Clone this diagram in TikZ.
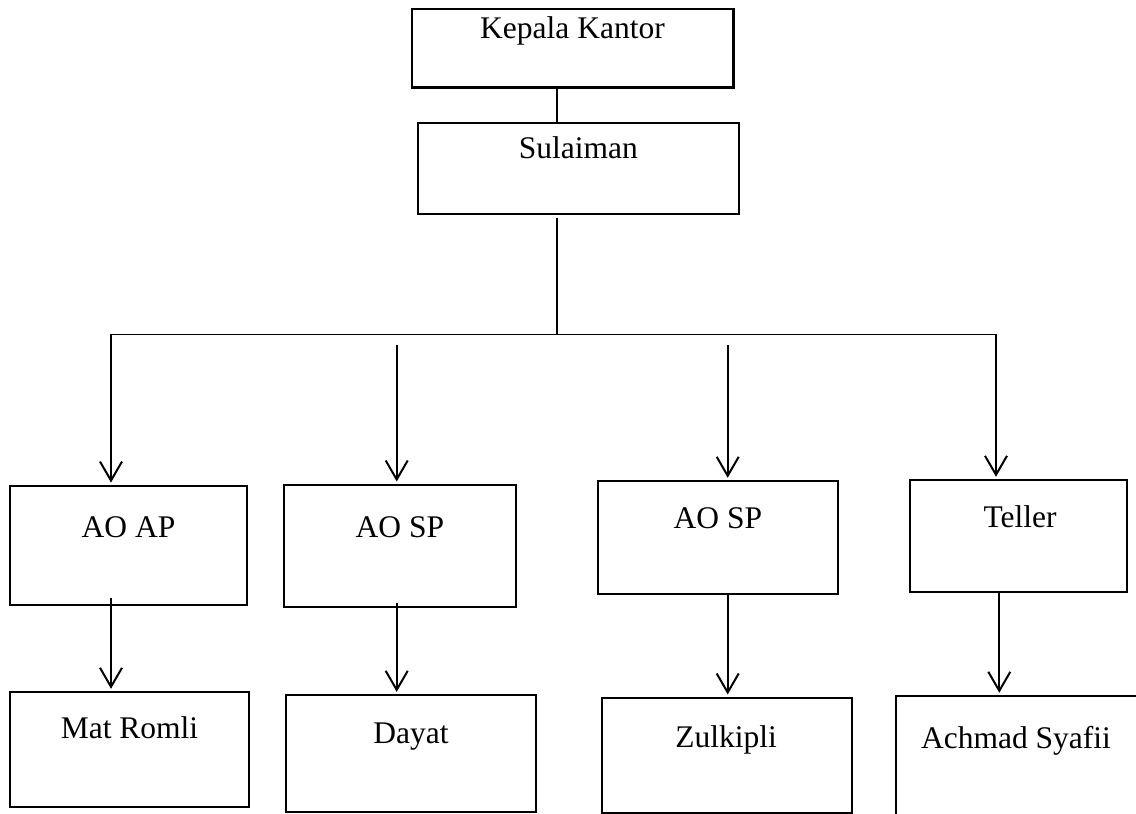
\documentclass[tikz,border=0pt]{standalone}
\usepackage{fontspec}
\setmainfont{Liberation Serif}
\usetikzlibrary{arrows.meta}
\begin{document}
\begin{tikzpicture}[x=1pt,y=-1pt,
    unit/.style={draw, line width=2.4pt, inner sep=0pt},
    staff/.style={anchor=base, inner sep=0pt, font=\fontsize{31.5}{36}\selectfont},
    link/.style={line width=2pt},
    down/.style={link, shorten >=2pt, -{Straight Barb[length=19pt,width=22pt]}}]
    \useasboundingbox (0,0) rectangle (1136,814);
    \clip (0,0) rectangle (1136,814);
    % boxes
    \node[unit, minimum width=321.6pt, minimum height=78.3pt] (kepala) at (572.5,48.2) {};
    \node[unit, minimum width=321.3pt, minimum height=91pt] (sulaiman) at (578.4,168.2) {};
    \node[unit, minimum width=237pt, minimum height=119.3pt] (aoap) at (128.5,545.4) {};
    \node[unit, minimum width=232.3pt, minimum height=122pt] (aospa) at (399.9,545.7) {};
    \node[unit, minimum width=239.7pt, minimum height=113pt] (aospb) at (717.9,537.5) {};
    \node[unit, minimum width=217pt, minimum height=112pt] (teller) at (1018.5,536) {};
    \node[unit, minimum width=239pt, minimum height=115pt] (romli) at (129.5,749.5) {};
    \node[unit, minimum width=250.3pt, minimum height=116.7pt] (dayat) at (410.9,753.4) {};
    \node[unit, minimum width=250pt, minimum height=115pt] (zulkipli) at (727,755.2) {};
    \node[unit, minimum width=260pt, minimum height=140pt] (syafii) at (1026,766) {};
    % names
    \node[staff] (kepala-t) at ([yshift=-31pt]kepala.north) {Kepala Kantor};
    \node[staff] (sulaiman-t) at ([yshift=-37.3pt]sulaiman.north) {Sulaiman};
    \node[staff] (aoap-t) at ([yshift=-53.3pt]aoap.north) {AO AP};
    \node[staff] (aospa-t) at ([yshift=-53.6pt]aospa.north) {AO SP};
    \node[staff] (aospb-t) at ([yshift=-49pt]aospb.north) {AO SP};
    \node[staff] (teller-t) at ([xshift=1.5pt,yshift=-48.3pt]teller.north) {Teller};
    \node[staff] (romli-t) at ([yshift=-48pt]romli.north) {Mat Romli};
    \node[staff] (dayat-t) at ([yshift=-50pt]dayat.north) {Dayat};
    \node[staff] (zulkipli-t) at ([xshift=-1pt,yshift=-50.6pt]zulkipli.north) {Zulkipli};
    \node[staff] (syafii-t) at ([xshift=-10pt,yshift=-54pt]syafii.north) {Achmad Syafii};
    % lines
    \coordinate (hub) at (557.3,334.3);
    \coordinate (b1) at (111,334.3);
    \coordinate (b2) at (396.7,345);
    \coordinate (b3) at (727.7,345);
    \coordinate (b4) at (996,334.3);
    \draw[link] (kepala.south -| hub) -- ([yshift=-2pt]sulaiman.north -| hub);
    \draw[link] ([yshift=-3pt]sulaiman.south -| hub) -- (hub);
    \draw[line width=1.6pt] (b1) -- (b4);
    \draw[down] (b1) -- (aoap.north -| b1);
    \draw[down] (b2) -- (aospa.north -| b2);
    \draw[down] (b3) -- (aospb.north -| b3);
    \draw[down] (b4) -- (teller.north -| b4);
    \draw[down] ([yshift=8pt]aoap.south -| b1) -- (romli.north -| b1);
    \draw[down] ([yshift=5pt]aospa.south -| b2) -- (dayat.north -| b2);
    \draw[down] (aospb.south -| b3) -- (zulkipli.north -| b3);
    \draw[down] ([xshift=3.3pt]teller.south -| b4) -- ([xshift=3.3pt]syafii.north -| b4);
\end{tikzpicture}
\end{document}
